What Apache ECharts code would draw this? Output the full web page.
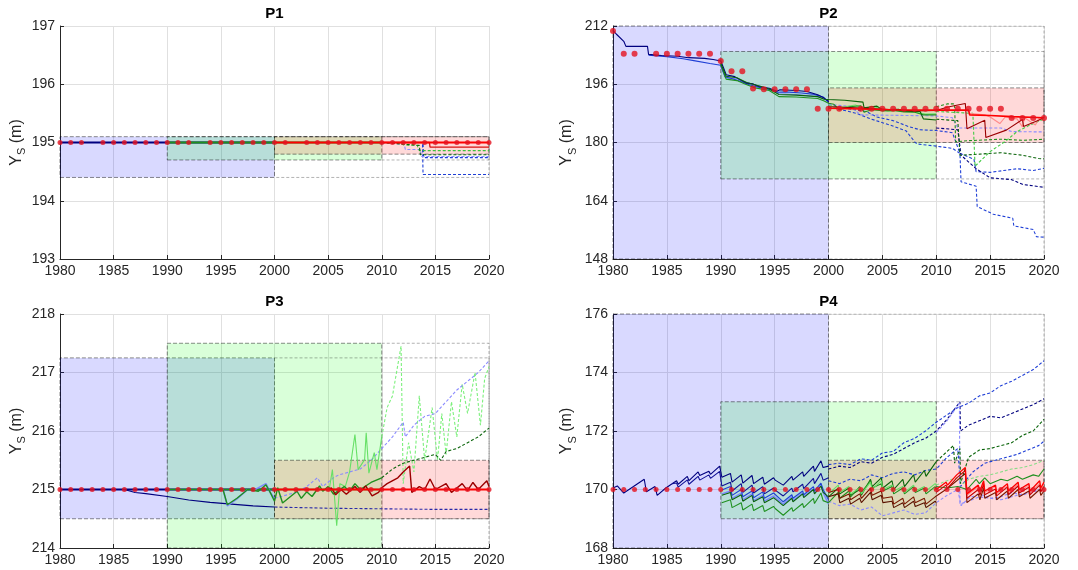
<!DOCTYPE html>
<html>
<head>
<meta charset="utf-8">
<title>P1 - P4</title>
<script src="https://cdn.jsdelivr.net/npm/echarts@6/dist/echarts.min.js"></script>
<style>
  html, body { margin: 0; padding: 0; background: #fff; }
  #chart { width: 1078px; height: 570px; }
</style>
</head>
<body>
<div id="chart"></div>
<script>
// ---- data ----------------------------------------------------------------
const X_END = 2020;

// boxes: [colour, x from, x to (filled), y min, y max]
const p1Boxes = [['blue', 1980, 2000, 194.4, 195.1], ['green', 1990, 2010, 194.7, 195.1], ['red', 2000, 2020, 194.8, 195.1]];
const p2Boxes = [['blue', 1980, 2000, 148, 212], ['green', 1990, 2010, 170, 205], ['red', 2000, 2020, 180, 195]];
const p3Boxes = [['blue', 1980, 2000, 214.5, 217.25], ['green', 1990, 2010, 214, 217.5], ['red', 2000, 2020, 214.5, 215.5]];
const p4Boxes = [['blue', 1980, 2000, 168, 176], ['green', 1990, 2010, 169, 173], ['red', 2000, 2020, 169, 171]];

// observations
const p1ObsYears = [1980, 1981, 1982, 1984, 1985, 1986, 1987, 1988, 1989, 1990, 1991, 1992, 1994, 1995, 1996, 1997, 1998, 1999, 2000, 2001,
  2003, 2004, 2005, 2006, 2007, 2008, 2009, 2010, 2011, 2012, 2013, 2014, 2015, 2016, 2017, 2018, 2019, 2020];
const p1ObsVals = [195, 195, 195, 195, 195, 195, 195, 195, 195, 195, 195, 195, 195, 195, 195, 195, 195, 195, 195, 195,
  195, 195, 195, 195, 195, 195, 195, 195, 195, 195, 195, 195, 195, 195, 195, 195, 195, 195];
const p2ObsYears = [1980, 1981, 1982, 1984, 1985, 1986, 1987, 1988, 1989, 1990, 1991, 1992, 1993, 1994, 1995, 1996, 1997, 1998, 1999, 2000, 2001,
  2003, 2004, 2005, 2006, 2007, 2008, 2009, 2010, 2011, 2012, 2013, 2014, 2015, 2016, 2017, 2018, 2019, 2020];
const p2ObsVals = [210.6, 204.4, 204.4, 204.4, 204.4, 204.4, 204.4, 204.4, 204.4, 202.4, 199.6, 199.6, 194.8, 194.6, 194.6, 194.6, 194.6, 194.6, 189.3, 189.3, 189.3,
  189.3, 189.3, 189.3, 189.3, 189.3, 189.3, 189.3, 189.3, 189.3, 189.3, 189.3, 189.3, 189.3, 189.3, 186.7, 186.7, 186.7, 186.7];
const p3ObsYears = [1980, 1981, 1982, 1983, 1984, 1985, 1986, 1987, 1988, 1989, 1990, 1991, 1992, 1993, 1994, 1995, 1996, 1997, 1998, 1999, 2000,
  2001, 2002, 2003, 2004, 2005, 2006, 2007, 2008, 2009, 2010, 2011, 2012, 2013, 2014, 2015, 2016, 2017, 2018, 2019, 2020];
const p3ObsVals = [215, 215, 215, 215, 215, 215, 215, 215, 215, 215, 215, 215, 215, 215, 215, 215, 215, 215, 215, 215, 215,
  215, 215, 215, 215, 215, 215, 215, 215, 215, 215, 215, 215, 215, 215, 215, 215, 215, 215, 215, 215];
const p4ObsYears = p3ObsYears;
const p4ObsVals = [170, 170, 170, 170, 170, 170, 170, 170, 170, 170, 170, 170, 170, 170, 170, 170, 170, 170, 170, 170, 170,
  170, 170, 170, 170, 170, 170, 170, 170, 170, 170, 170, 170, 170, 170, 170, 170, 170, 170, 170, 170];

// ---- P1 simulations
const p1Navy = [[1980, 195], [2000, 195]];
const p1Green = [[1990, 195], [2010, 195]];
const p1Red = [[2000, 195], [2020, 195]];
const p1RedStep = [[2010, 195], [2014.45, 195], [2014.5, 194.92], [2020, 194.92]];
const p1BlueDashA = [[2000, 195], [2013.8, 195], [2013.85, 194.45], [2020, 194.45]];
const p1BlueDashB = [[2000, 195], [2013.85, 195], [2013.9, 194.74], [2020, 194.74]];
const p1LavDash = [[2010, 195], [2012.1, 194.97], [2012.2, 194.88], [2013.6, 194.88], [2013.7, 194.76], [2020, 194.76]];
const p1GreenDash = [[2010, 195], [2011.5, 195], [2012, 194.96], [2013.3, 194.95], [2013.5, 194.86], [2020, 194.86]];
const p1DkGreenDash = [[2010, 195], [2013.5, 194.95], [2013.6, 194.79], [2020, 194.79]];

// ---- P2 simulations
const p2Navy = [[1980, 210.8], [1980.3, 209.8], [1981, 207.8], [1981.2, 206.4], [1983.2, 206.4], [1983.3, 204.2], [1984.5, 203.9], [1986, 203.7],
  [1987, 203.3], [1988.5, 203.1], [1989.3, 202.8], [1990, 202.4], [1990.3, 200.2], [1990.5, 198.6], [1991.3, 198.1], [1991.8, 197.2],
  [1992.4, 196.3], [1993, 196.1], [1993.5, 195.4], [1994.5, 194.9], [1995.2, 194.1], [1995.5, 194.5], [1997, 194.3], [1998, 194.0],
  [1999, 193.1], [1999.6, 192.2], [2000, 191.3]];
const p2Blue = [[1983.3, 204.0], [1985, 203.6], [1986.5, 203.0], [1987.5, 202.5], [1989, 201.7], [1990, 201.2], [1990.4, 198.0], [1991, 197.6],
  [1991.8, 196.8], [1992.5, 196.0], [1993.5, 195.2], [1994.5, 194.6], [1995.3, 193.8], [1996, 193.9], [1997.5, 193.6], [1998.5, 193.3],
  [1999.5, 192.5], [2000, 191.0]];
const p2LtBlue = [[1990, 200.8], [1990.5, 197.8], [1991.5, 197.5], [1992.5, 196.4], [1993.5, 195.6], [1994.5, 194.7], [1995.4, 193.4],
  [1997, 193.2], [1999, 192.6], [2000, 191.6]];
const p2Green = [[1990, 201.5], [1990.5, 197.4], [1991.5, 197.0], [1992.3, 196.0], [1993.2, 195.0], [1994.5, 194.3], [1995.4, 192.6],
  [1997, 192.5], [1999, 192.1], [1999.6, 191.4], [2000, 190.8], [2000.5, 190.5], [2001, 189.0], [2002, 189.8], [2003, 190.1],
  [2003.3, 188.3], [2004, 189.0], [2005, 188.7], [2006, 188.8], [2007, 188.4], [2008, 188.3], [2008.8, 187.6], [2010, 187.6]];
const p2DkGreen = [[1990, 201.8], [1990.5, 198.2], [1991.5, 197.8], [1992.4, 196.5], [1993.5, 195.6], [1994.5, 194.7], [1995.4, 193.2],
  [1997, 193.0], [1999, 192.6], [1999.6, 191.9], [2000, 191.8], [2001.5, 191.6], [2003.2, 191.1], [2003.3, 189.5], [2004.5, 190.0],
  [2005, 189.0], [2006.5, 189.1], [2007, 188.6], [2008.5, 188.5], [2008.8, 186.5], [2010, 186.2]];
const p2LtGreen = [[2000, 190.4], [2000.7, 189.5], [2001.5, 189.8], [2002.5, 190.3], [2003.5, 189.0], [2004.5, 189.6], [2005.5, 188.6],
  [2006.5, 188.9], [2007.5, 188.6], [2008.5, 188.1], [2009, 187.8], [2010, 187.9]];
const p2Red = [[2000, 189.4], [2003, 189.2], [2006, 189.0], [2010, 188.9], [2013, 188.9], [2013.1, 187.6], [2015, 187.4], [2017, 187.1], [2020, 186.8]];
const p2DkRed = [[2000, 189.8], [2002, 189.6], [2004, 189.3], [2006, 189.0], [2008, 188.7], [2010, 188.8], [2011, 189.7], [2012, 190.3],
  [2012.7, 190.7], [2012.85, 183.8], [2014.5, 186.1], [2014.6, 181.4], [2016.5, 183.4], [2018, 186.3], [2018.1, 184.4], [2019.5, 186.1], [2020, 186.9]];
const p2Pink = [[2013, 188.0], [2014.5, 187.6], [2015, 187.0], [2015.9, 185.2], [2016.4, 187.0], [2017.5, 186.5], [2018, 184.3],
  [2018.2, 186.8], [2019.2, 184.8], [2019.5, 186.5], [2020, 187.0]];
const p2BlueDashA = [[2000, 189.8], [2001.5, 188.8], [2002.6, 188.0], [2004, 186.4], [2005.7, 184.8], [2007.2, 183.2], [2008, 180.2],
  [2008.2, 179.6], [2010, 179.0], [2011.5, 178.4], [2012.2, 177.0], [2012.3, 169.2], [2013.7, 168.0], [2013.8, 162.4], [2015.3, 160.3],
  [2017.1, 159.2], [2017.2, 157.1], [2019, 156.1], [2019.3, 154.1], [2020, 154.0]];
const p2BlueDashB = [[2000, 190.3], [2002, 189.2], [2003.5, 188.5], [2004.5, 187.0], [2006, 186.0], [2007.5, 184.3], [2008.5, 183.5],
  [2010, 183.3], [2011.5, 182.7], [2012.2, 177.0], [2013.5, 175.4], [2013.7, 172.0], [2015, 171.8], [2016.5, 172.4], [2017.5, 172.8],
  [2019, 172.3], [2020, 172.9]];
const p2BlueDashC = [[2010, 184.0], [2012, 183.5], [2012.3, 176.5], [2013.7, 172.8], [2015, 170.3], [2017, 169.8], [2018, 168.5], [2020, 167.7]];
const p2LavDash = [[2000, 190.5], [2002, 189.9], [2003, 187.6], [2010, 187.3], [2011.5, 186.8], [2012, 184.0], [2016, 184.0], [2017, 183.0], [2020, 182.9]];
const p2GreenDashA = [[2010, 189.8], [2011, 190.6], [2011.7, 190.6], [2011.8, 180.2], [2013, 180.5], [2016, 180.9], [2018, 180.6], [2020, 180.9]];
const p2GreenDashB = [[2010, 188.5], [2011.5, 188.3], [2013.4, 188.0], [2013.6, 173.5], [2015, 177.5], [2016.5, 180.5], [2017.5, 183.0],
  [2018.5, 184.5], [2020, 186.5]];
const p2GreenDashC = [[2010, 186.4], [2012, 186.0], [2012.2, 176.5], [2014, 176.8], [2016, 177.2], [2018, 176.5], [2019.5, 175.6], [2020, 175.5]];

// ---- P3 simulations
const p3Navy = [[1980, 215], [2000, 215]];
const p3NavyDecl = [[1980, 215], [1986, 215], [1987, 214.95], [1988, 214.93], [1990, 214.88], [1991, 214.85], [1992, 214.82],
  [1994, 214.78], [1996, 214.75], [1998, 214.72], [2000, 214.7]];
const p3NavyDash = [[2000, 214.7], [2005, 214.68], [2010, 214.67], [2015, 214.66], [2020, 214.66]];
const p3LtBlue = [[1995.2, 215], [1995.6, 214.72], [1996.5, 214.84], [1997.5, 215.0], [1998, 214.98], [1999.2, 215.1], [1999.6, 214.95], [2000, 214.85]];
const p3LavDash = [[2000, 214.85], [2001, 214.9], [2002, 214.95], [2003, 215.05], [2004, 215.2], [2004.5, 215.05], [2005.5, 215.2],
  [2006, 215.25], [2007, 215.3], [2008, 215.35], [2009, 215.5], [2010, 215.7], [2011, 215.9], [2012, 216.15], [2012.2, 215.9],
  [2013, 216.1], [2014, 216.25], [2015, 216.3], [2016, 216.5], [2017, 216.7], [2018, 216.85], [2019, 217.0], [2020, 217.2]];
const p3GreenFlat = [[1990, 215], [2010, 215]];
const p3Green = [[1995.2, 215], [1995.6, 214.74], [1996.5, 214.85], [1997.5, 215.0], [1998.5, 214.97], [1999.2, 215.08], [1999.6, 214.95],
  [2000, 214.8], [2000.3, 215.03], [2000.75, 214.77], [2002.1, 214.97], [2002.5, 214.85], [2003, 214.96], [2003.5, 214.88], [2004.2, 215.06],
  [2004.5, 214.97], [2005, 215.05], [2005.5, 214.92], [2006.5, 215.05], [2007, 214.97], [2007.5, 215.1], [2008, 215.0], [2008.5, 215.06],
  [2009, 215.12], [2010, 215.2]];
const p3DkGreenDash = [[2010, 215.2], [2011, 215.35], [2012, 215.45], [2013, 215.5], [2014, 215.55], [2015, 215.6], [2015.5, 215.5],
  [2016, 215.65], [2017, 215.7], [2018, 215.8], [2019, 215.9], [2020, 216.05]];
const p3LtGreen = [[2004.5, 215], [2005.1, 215], [2005.4, 215.34], [2005.8, 214.38], [2006.1, 215.1], [2006.6, 215.05], [2007, 215.3],
  [2007.5, 215.94], [2007.8, 215.34], [2008.4, 215.51], [2008.55, 215.97], [2008.8, 215.28], [2009.3, 215.63], [2009.55, 215.34], [2010, 215.9]];
const p3LtGreenDash = [[2010, 215.9], [2010.5, 216.4], [2011, 216.6], [2011.8, 217.45], [2012, 215.1], [2012.5, 215.8], [2013, 215.3],
  [2013.5, 216.6], [2014, 215.5], [2014.7, 216.4], [2015.2, 215.5], [2015.6, 216.3], [2016, 215.6], [2016.5, 216.5], [2017, 215.9],
  [2017.5, 216.8], [2018, 216.3], [2018.7, 217.0], [2019.2, 216.1], [2019.6, 216.9], [2020, 217.1]];
const p3Red = [[2000, 215], [2020, 215]];
const p3DkRed = [[2005, 215], [2005.3, 215.03], [2005.7, 214.91], [2006.2, 215.0], [2006.7, 214.92], [2007.5, 215.05], [2008, 214.95],
  [2008.5, 215.06], [2009.1, 214.89], [2009.7, 214.95], [2010, 215.03], [2010.5, 215.1], [2011.5, 215.2], [2012, 215.3], [2012.6, 215.4],
  [2012.8, 214.95], [2013.5, 215.05], [2014, 215.0], [2014.5, 215.18], [2015, 215.0], [2016, 215.1], [2016.5, 214.95], [2017.5, 215.1],
  [2018, 214.98], [2018.5, 215.12], [2019, 215.0], [2019.8, 215.15], [2020, 215.05]];

// ---- P4 simulations
const p4Navy = [[1980, 170.05], [1980.4, 170.12], [1981, 169.88], [1981.9, 170.1], [1982.9, 170.35], [1983.1, 169.92], [1983.9, 170.1],
  [1984.1, 169.8], [1984.9, 170.05], [1985.9, 170.3], [1986.05, 170.18], [1986.9, 170.45], [1987.05, 170.3], [1987.9, 170.6],
  [1988.05, 170.48], [1988.9, 170.62], [1989.05, 170.52], [1989.9, 170.8], [1990.1, 170.42], [1990.9, 170.55], [1991.05, 170.25],
  [1991.9, 170.5], [1992.05, 170.22], [1992.9, 170.48], [1993.05, 170.2], [1993.9, 170.42], [1994.05, 170.18], [1994.9, 170.4],
  [1995.05, 170.32], [1995.8, 170.15], [1996.6, 170.45], [1996.7, 170.32], [1997.6, 170.6], [1997.7, 170.45], [1998.6, 170.8],
  [1998.7, 170.62], [1999.3, 170.98], [1999.5, 170.75], [2000, 170.8]];
const p4Navy2 = [[1985.5, 170.2], [1985.9, 170.22], [1986.05, 170.08], [1986.9, 170.33], [1987.05, 170.18], [1987.9, 170.45],
  [1988.05, 170.32], [1988.9, 170.5], [1989.05, 170.38], [1989.9, 170.62], [1990.1, 170.12], [1990.9, 170.25], [1991.05, 169.95],
  [1991.9, 170.2], [1992.05, 169.9], [1992.9, 170.15], [1993.05, 169.88], [1993.9, 170.1], [1994.05, 169.85], [1994.9, 170.05],
  [1995.05, 169.98], [1995.8, 169.78], [1996.6, 170.05], [1996.7, 169.92], [1997.6, 170.18], [1997.7, 170.03], [1998.6, 170.38],
  [1998.7, 170.2], [1999.3, 170.55], [1999.5, 170.32], [2000, 170.4]];
const p4Blue = [[1990.1, 169.98], [1990.9, 170.1], [1991.05, 169.8], [1991.9, 170.0], [1992.05, 169.75], [1992.9, 169.95], [1993.05, 169.72],
  [1993.9, 169.92], [1994.05, 169.7], [1994.9, 169.88], [1995.05, 169.82], [1995.8, 169.58], [1996.6, 169.82], [1996.7, 169.7],
  [1997.6, 169.95], [1997.7, 169.82], [1998.6, 170.1], [1998.7, 169.95], [1999.3, 170.22], [1999.5, 170.0], [2000, 169.65]];
const p4LtBlue = [[1990.1, 169.85], [1990.9, 169.95], [1991.05, 169.7], [1991.9, 169.88], [1992.05, 169.65], [1992.9, 169.85],
  [1993.05, 169.62], [1993.9, 169.8], [1994.05, 169.6], [1994.9, 169.78], [1995.05, 169.72], [1995.8, 169.5], [1996.6, 169.75],
  [1996.7, 169.62], [1997.6, 169.88], [1997.7, 169.75], [1998.6, 170.02], [1998.7, 169.88], [1999.3, 170.15], [1999.5, 169.9], [2000, 169.5]];
const p4Green = [[1990.1, 169.55], [1990.9, 169.65], [1991.05, 169.38], [1991.9, 169.55], [1992.05, 169.3], [1992.9, 169.5], [1993.05, 169.28],
  [1993.9, 169.45], [1994.05, 169.25], [1994.9, 169.42], [1995.05, 169.35], [1995.8, 169.12], [1996.6, 169.38], [1996.7, 169.25],
  [1997.6, 169.52], [1997.7, 169.38], [1998.6, 169.7], [1998.7, 169.52], [1999.3, 169.88], [1999.5, 169.62], [2000, 169.55],
  [2000.9, 169.9], [2001.05, 169.7], [2001.9, 169.95], [2002.05, 169.75], [2002.9, 170.1], [2003.05, 169.9], [2003.9, 170.3],
  [2004.05, 170.05], [2004.9, 170.2], [2005.05, 169.95], [2005.9, 170.1], [2006.05, 169.85], [2006.9, 170.05], [2007.05, 169.85],
  [2007.9, 170.1], [2008.05, 169.9], [2008.9, 170.05], [2009.05, 169.85], [2009.9, 170.1], [2010, 170.0]];
const p4DkGreen = [[1990.1, 169.8], [1990.9, 169.9], [1991.05, 169.65], [1991.9, 169.82], [1992.05, 169.6], [1992.9, 169.8], [1993.05, 169.58],
  [1993.9, 169.75], [1994.05, 169.55], [1994.9, 169.72], [1995.05, 169.68], [1995.8, 169.45], [1996.6, 169.7], [1996.7, 169.58],
  [1997.6, 169.85], [1997.7, 169.72], [1998.6, 170.0], [1998.7, 169.85], [1999.3, 170.12], [1999.5, 169.9], [2000, 169.75],
  [2000.9, 170.05], [2001.05, 169.85], [2001.9, 170.05], [2002.05, 169.8], [2002.9, 170.0], [2003.05, 169.8], [2003.9, 170.35],
  [2004.05, 170.1], [2004.9, 170.4], [2005.05, 170.05], [2005.9, 170.3], [2006.05, 170.0], [2006.9, 170.35], [2007.05, 170.1],
  [2007.9, 170.5], [2008.05, 170.25], [2008.9, 170.65], [2009.05, 170.45], [2009.9, 170.9], [2010, 170.95]];
const p4LtGreen = [[2000, 169.85], [2000.9, 170.15], [2001.05, 169.9], [2001.9, 170.1], [2002.05, 169.85], [2002.9, 170.05], [2003.05, 169.85],
  [2003.9, 170.25], [2004.05, 170.0], [2004.9, 170.3], [2005.05, 170.0], [2005.9, 170.15], [2006.05, 169.95], [2006.9, 170.1],
  [2007.05, 169.9], [2007.9, 170.15], [2008.05, 169.95], [2008.9, 170.1], [2009.05, 169.95], [2009.9, 170.2], [2010, 170.15]];
const p4Green2010 = [[2010, 170.1], [2011, 170.05], [2012, 170.1], [2012.85, 170.0], [2013.7, 170.35], [2014, 170.2], [2014.5, 170.4],
  [2015, 170.2], [2016, 170.35], [2016.6, 170.3], [2017.5, 170.45], [2018, 170.35], [2019, 170.5], [2019.5, 170.45], [2020, 170.7]];
const p4Brown = [[2000, 169.9], [2000.9, 170.0], [2001.05, 169.7], [2001.9, 169.85], [2002.05, 169.65], [2002.9, 169.85], [2003.05, 169.7],
  [2003.9, 170.05], [2004.05, 169.8], [2004.9, 169.95], [2005.05, 169.7], [2005.9, 169.75], [2006.05, 169.5], [2006.9, 169.7],
  [2007.05, 169.5], [2007.9, 169.75], [2008.05, 169.55], [2008.9, 169.7], [2009.05, 169.5], [2009.9, 169.75], [2010, 169.7],
  [2010.9, 170.0], [2011.9, 170.3], [2012.7, 170.55], [2012.85, 169.55], [2013.9, 169.85], [2014.05, 169.65], [2014.4, 170.05],
  [2014.5, 169.7], [2015.5, 169.9], [2015.6, 169.65], [2016.6, 169.95], [2016.7, 169.7], [2017.6, 170.0], [2017.7, 169.75],
  [2018.6, 169.95], [2018.7, 169.7], [2019.6, 170.0], [2019.7, 169.8], [2020, 169.95]];
const p4Brown2 = [[2000, 169.75], [2000.9, 169.85], [2001.05, 169.55], [2001.9, 169.7], [2002.05, 169.5], [2002.9, 169.7], [2003.05, 169.55],
  [2003.9, 169.9], [2004.05, 169.65], [2004.9, 169.8], [2005.05, 169.55], [2005.9, 169.6], [2006.05, 169.38], [2006.9, 169.55],
  [2007.05, 169.38], [2007.9, 169.6], [2008.05, 169.42], [2008.9, 169.55], [2009.05, 169.38], [2009.9, 169.6], [2010, 169.55]];
const p4Red = [[2010, 170.0], [2010.9, 170.25], [2011.05, 170.15], [2011.9, 170.5], [2012.05, 170.45], [2012.7, 170.75], [2012.85, 169.85],
  [2013.9, 170.15], [2014.05, 169.95], [2014.4, 170.3], [2014.5, 169.95], [2015.5, 170.15], [2015.6, 169.9], [2016.6, 170.2],
  [2016.7, 169.95], [2017.6, 170.25], [2017.7, 170.0], [2018.6, 170.2], [2018.7, 169.95], [2019.6, 170.3], [2019.7, 170.05], [2020, 170.25]];
const p4Red2 = [[2010, 169.9], [2010.9, 170.15], [2011.05, 170.05], [2011.9, 170.4], [2012.05, 170.35], [2012.7, 170.65], [2012.85, 169.7],
  [2013.9, 170.0], [2014.05, 169.8], [2014.4, 170.18], [2014.5, 169.82], [2015.5, 170.02], [2015.6, 169.78], [2016.6, 170.08],
  [2016.7, 169.82], [2017.6, 170.12], [2017.7, 169.88], [2018.6, 170.08], [2018.7, 169.82], [2019.6, 170.15], [2019.7, 169.92], [2020, 170.1]];
const p4Pink = [[2012.85, 169.8], [2013.9, 170.1], [2014.05, 169.9], [2014.4, 170.25], [2014.5, 169.9], [2015.5, 170.1], [2015.6, 169.85],
  [2016.6, 170.12], [2016.7, 169.88], [2017.6, 170.18], [2017.7, 169.92], [2018.6, 170.15], [2018.7, 169.88], [2019.6, 170.2],
  [2019.7, 169.98], [2020, 170.18]];
const p4BlueDashTop = [[2000, 170.85], [2001, 170.9], [2002, 170.85], [2003, 171.05], [2004, 171.0], [2005, 171.25], [2006, 171.3],
  [2007, 171.6], [2008, 171.75], [2009, 172.0], [2010, 172.3], [2011, 172.55], [2012, 172.8], [2013, 172.95], [2014, 173.2],
  [2015, 173.3], [2016, 173.55], [2017, 173.7], [2018, 173.9], [2019, 174.1], [2020, 174.4]];
const p4NavyDash = [[2000, 170.7], [2001, 170.8], [2002, 170.75], [2003, 170.95], [2004, 170.9], [2005, 171.1], [2006, 171.2],
  [2007, 171.4], [2008, 171.6], [2009, 171.75], [2010, 172.0], [2011, 172.4], [2012.2, 173.0], [2012.25, 172.0], [2013, 172.2],
  [2014, 172.35], [2015, 172.5], [2016, 172.45], [2017, 172.6], [2018, 172.75], [2019, 172.9], [2020, 173.1]];
const p4BlueDashMid = [[2000, 170.3], [2001, 170.2], [2002, 170.35], [2003, 170.3], [2004, 170.5], [2005, 170.4], [2006, 170.55],
  [2007, 170.6], [2008, 170.5], [2009, 170.65], [2010, 170.7], [2011, 171.1], [2012, 171.4], [2012.25, 170.1], [2013.4, 170.6],
  [2014.5, 170.9], [2015.5, 171.0], [2016.5, 171.1], [2017.5, 171.2], [2018.5, 171.35], [2019.5, 171.5], [2020, 171.65]];
const p4LavDashLow = [[2000, 169.6], [2001, 169.45], [2002, 169.5], [2003, 169.3], [2004, 169.4], [2005, 169.1], [2006, 169.2],
  [2007, 169.3], [2008, 169.15], [2009, 169.2], [2010, 169.55], [2011, 169.8], [2012, 170.0], [2012.3, 169.45], [2013, 169.7],
  [2014, 169.85], [2015, 169.7], [2016, 169.75], [2017, 169.9], [2018, 169.8], [2019, 169.95], [2020, 170.05]];
const p4LavDashHigh = [[2010, 171.95], [2011, 172.35], [2012.15, 172.95], [2012.2, 169.5], [2013, 169.6], [2014, 169.75], [2016, 169.65],
  [2018, 169.85], [2020, 170.0]];
const p4GreenDash = [[2010, 170.95], [2011, 171.3], [2011.6, 171.5], [2011.7, 170.9], [2012.2, 171.4], [2012.25, 170.2], [2013, 171.1],
  [2014, 171.35], [2015, 171.4], [2016, 171.5], [2017, 171.6], [2018, 171.85], [2019, 172.0], [2020, 172.4]];
const p4LtGreenDash = [[2010, 170.15], [2011, 170.3], [2012, 170.4], [2012.5, 170.2], [2013, 170.35], [2014, 170.45], [2015, 170.5],
  [2016, 170.6], [2017, 170.7], [2018, 170.75], [2019, 170.85], [2020, 171.0]];

// ---- layout --------------------------------------------------------------
const FONT = '"Liberation Sans", Arial, sans-serif';
const INK = '#262626';
const panels = [
  { title: 'P1', grid: { left: 60, top: 26, width: 429, height: 233 }, y: [193, 197, 1], gap: 30, titleY: 14 },
  { title: 'P2', grid: { left: 613, top: 26, width: 431, height: 233 }, y: [148, 212, 16], gap: 35, titleY: 14 },
  { title: 'P3', grid: { left: 60, top: 314, width: 429, height: 234 }, y: [214, 218, 1], gap: 30, titleY: 302 },
  { title: 'P4', grid: { left: 613, top: 314, width: 431, height: 234 }, y: [168, 176, 2], gap: 35, titleY: 302 }
];
const boxFill = { blue: 'rgba(0,0,255,0.15)', green: 'rgba(0,255,0,0.15)', red: 'rgba(255,0,0,0.15)' };

const C = {
  navy: '#00007f', blue: '#1f3fd6', ltBlue: '#7b86ff', lav: '#8a8aff',
  green: '#1f901f', dkGreen: '#0a640a', ltGreen: '#66e066',
  red: '#ff0000', dkRed: '#9b0000', brown: '#7a1800', pink: '#ff8a8a'
};

const series = [];
function addLine(p, data, color, dashed, width, z) {
  series.push({
    type: 'line', xAxisIndex: p, yAxisIndex: p, data: data, symbol: 'none', silent: true,
    lineStyle: { color: color, width: width || 1.1, type: dashed ? [3, 2] : 'solid' }, z: z || 3
  });
}
function addBoxes(p, boxes) {
  series.push({
    type: 'line', xAxisIndex: p, yAxisIndex: p, data: [], z: 1, silent: true,
    markArea: {
      silent: true,
      data: boxes.map(b => [
        { xAxis: b[1], yAxis: b[3], itemStyle: { color: boxFill[b[0]], opacity: 1, borderColor: 'rgba(0,0,0,0.45)', borderWidth: 1, borderType: [4, 2] } },
        { xAxis: b[2], yAxis: b[4] }
      ])
    }
  });
  boxes.forEach(b => {
    if (b[2] < X_END) addLine(p, [[b[2], b[4]], [X_END, b[4]], [X_END, b[3]], [b[2], b[3]]], 'rgba(0,0,0,0.3)', true, 1, 2);
  });
}
function addDots(p, years, vals, size) {
  series.push({
    type: 'scatter', xAxisIndex: p, yAxisIndex: p, symbolSize: size, silent: true, z: 6,
    itemStyle: { color: '#e5121f' }, data: years.map((yr, i) => [yr, vals[i]])
  });
}

// P1
addBoxes(0, p1Boxes);
addLine(0, p1BlueDashA, C.blue, true);
addLine(0, p1BlueDashB, C.blue, true);
addLine(0, p1LavDash, C.lav, true);
addLine(0, p1GreenDash, '#3cc03c', true);
addLine(0, p1DkGreenDash, C.dkGreen, true);
addLine(0, p1Navy, C.navy, false, 2);
addLine(0, p1Green, C.green, false, 2);
addLine(0, p1RedStep, '#d81010', false, 1.3);
addLine(0, p1Red, C.red, false, 2);
addDots(0, p1ObsYears, p1ObsVals, 5);

// P2
addBoxes(1, p2Boxes);
addLine(1, p2BlueDashA, C.blue, true);
addLine(1, p2BlueDashB, C.blue, true);
addLine(1, p2BlueDashC, C.navy, true);
addLine(1, p2LavDash, C.lav, true);
addLine(1, p2GreenDashA, C.green, true);
addLine(1, p2GreenDashB, '#44cc44', true);
addLine(1, p2GreenDashC, C.dkGreen, true);
addLine(1, p2LtBlue, C.ltBlue);
addLine(1, p2Blue, C.blue);
addLine(1, p2Navy, C.navy);
addLine(1, p2LtGreen, C.ltGreen);
addLine(1, p2Green, C.green);
addLine(1, p2DkGreen, C.dkGreen);
addLine(1, p2Pink, C.pink);
addLine(1, p2DkRed, C.dkRed);
addLine(1, p2Red, C.red, false, 1.6);
addDots(1, p2ObsYears, p2ObsVals, 6);

// P3
addBoxes(2, p3Boxes);
addLine(2, p3LtGreenDash, '#7cf07c', true);
addLine(2, p3LavDash, C.lav, true);
addLine(2, p3DkGreenDash, C.dkGreen, true);
addLine(2, p3NavyDash, '#2a2aa8', true);
addLine(2, p3NavyDecl, C.navy);
addLine(2, p3LtGreen, C.ltGreen);
addLine(2, p3Navy, C.navy, false, 2);
addLine(2, p3GreenFlat, C.green, false, 1.6);
addLine(2, p3LtBlue, C.ltBlue, false, 1.6);
addLine(2, p3Green, C.green, false, 1.4);
addLine(2, p3DkRed, C.dkRed, false, 1.4);
addLine(2, p3Red, C.red, false, 2);
addDots(2, p3ObsYears, p3ObsVals, 5);

// P4
addBoxes(3, p4Boxes);
addLine(3, p4BlueDashTop, C.blue, true);
addLine(3, p4NavyDash, C.navy, true);
addLine(3, p4BlueDashMid, C.blue, true);
addLine(3, p4LavDashHigh, C.lav, true);
addLine(3, p4LavDashLow, C.lav, true);
addLine(3, p4GreenDash, C.dkGreen, true);
addLine(3, p4LtGreenDash, '#88dd88', true);
addLine(3, p4Navy, C.navy);
addLine(3, p4Navy2, '#101096');
addLine(3, p4LtBlue, C.ltBlue, false, 1.4);
addLine(3, p4Blue, C.blue);
addLine(3, p4DkGreen, C.dkGreen);
addLine(3, p4Green, C.green);
addLine(3, p4LtGreen, C.ltGreen);
addLine(3, p4Green2010, C.green);
addLine(3, p4Brown2, '#5a1200');
addLine(3, p4Brown, C.brown);
addLine(3, p4Pink, C.pink);
addLine(3, p4Red2, '#c40000');
addLine(3, p4Red, C.red, false, 1.3);
addDots(3, p4ObsYears, p4ObsVals, 5);

const chart = echarts.init(document.getElementById('chart'), null, { renderer: 'canvas' });
chart.setOption({
  animation: false,
  backgroundColor: '#ffffff',
  grid: panels.map(pn => pn.grid),
  graphic: panels.map(pn => ({
    type: 'text', x: pn.grid.left + pn.grid.width / 2, y: pn.titleY, silent: true,
    style: { text: pn.title, font: 'bold 15px ' + FONT, fill: '#000', align: 'center', verticalAlign: 'middle' }
  })),
  xAxis: panels.map((pn, i) => ({
    type: 'value', gridIndex: i, min: 1980, max: 2020, interval: 5,
    axisLine: { onZero: false, lineStyle: { color: INK } },
    axisTick: { inside: true, length: 4, lineStyle: { color: INK } },
    axisLabel: { color: INK, fontSize: 14, fontFamily: FONT, margin: 5, formatter: v => String(v) },
    splitLine: { lineStyle: { color: '#e0e0e0' } }
  })),
  yAxis: panels.map((pn, i) => ({
    type: 'value', gridIndex: i, min: pn.y[0], max: pn.y[1], interval: pn.y[2],
    name: '{n|Y}{s|S}{n| (m)}', nameLocation: 'middle', nameGap: pn.gap,
    nameTextStyle: {
      rich: {
        n: { fontSize: 16, fontFamily: FONT, color: INK, lineHeight: 22 },
        s: { fontSize: 11, fontFamily: FONT, color: INK, lineHeight: 11, verticalAlign: 'bottom' }
      }
    },
    axisLine: { show: true, onZero: false, lineStyle: { color: INK } },
    axisTick: { show: true, inside: true, length: 4, lineStyle: { color: INK } },
    axisLabel: { color: INK, fontSize: 14, fontFamily: FONT, margin: 5, formatter: v => String(v) },
    splitLine: { lineStyle: { color: '#e0e0e0' } }
  })),
  series: series
});
</script>
</body>
</html>
